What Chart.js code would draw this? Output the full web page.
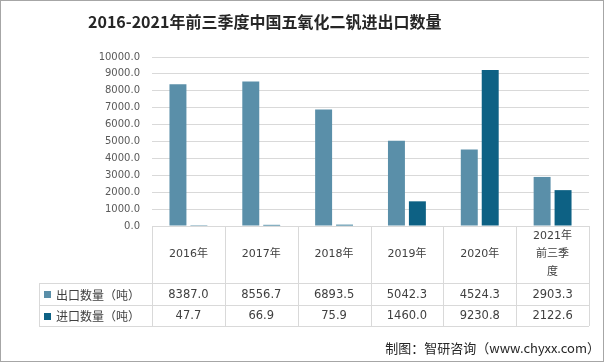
<!DOCTYPE html>
<html>
<head>
<meta charset="utf-8">
<script src="https://cdn.jsdelivr.net/npm/chart.js@4/dist/chart.umd.min.js"></script>
<style>
  html, body { margin: 0; padding: 0; background: #fff; }
  #wrap { position: relative; width: 606px; height: 363px; }
</style>
</head>
<body>
<div id="wrap"><canvas id="c" width="606" height="363"></canvas></div>
<script>
const title = "2016-2021年前三季度中国五氧化二钒进出口数量";
const years = ["2016年", "2017年", "2018年", "2019年", "2020年", ["2021年", "前三季", "度"]];
const seriesNames = ["出口数量（吨）", "进口数量（吨）"];
const exportVals = [8387.0, 8556.7, 6893.5, 5042.3, 4524.3, 2903.3];
const importVals = [47.7, 66.9, 75.9, 1460.0, 9230.8, 2122.6];
const colors = ["#5a8fa9", "#0d6184"];
const source = "制图：智研咨询（www.chyxx.com）";

const FONT = "'DejaVu Sans', 'Noto Sans CJK SC', sans-serif";
const CJK = "'Noto Sans CJK SC', 'DejaVu Sans', sans-serif";
const line = "#d9d9d9";

// title, data table under the plot, source note and frame
const extras = {
  id: "extras",
  afterDraw(chart) {
    const { ctx, chartArea: a, scales: { x } } = chart;
    const colW = (a.right - a.left) / years.length;
    const rowTop = a.bottom, r1 = a.bottom + 57, r2 = r1 + 22, r3 = r2 + 21;
    const legL = 39;
    ctx.save();

    ctx.fillStyle = "#262626";
    ctx.font = "bold 16px " + CJK;
    ctx.textBaseline = "middle";
    ctx.textAlign = "left";
    ctx.fillText(title, 88, 22);

    // grid of the table
    ctx.strokeStyle = line;
    ctx.lineWidth = 1;
    ctx.beginPath();
    for (let i = 0; i <= years.length; i++) {
      const px = Math.round(a.left + i * colW) + 0.5;
      ctx.moveTo(px, rowTop); ctx.lineTo(px, r3);
    }
    [r1, r2, r3].forEach(y => { ctx.moveTo(legL, y + 0.5); ctx.lineTo(a.right, y + 0.5); });
    ctx.moveTo(legL + 0.5, r1); ctx.lineTo(legL + 0.5, r3);
    ctx.stroke();

    ctx.fillStyle = "#404040";
    ctx.textAlign = "center";
    ctx.font = "11px " + FONT;
    years.forEach((y, i) => {
      const cx = x.getPixelForValue(i);
      const lines = Array.isArray(y) ? y : [y];
      const mid = (rowTop + r1) / 2;
      lines.forEach((t, k) => ctx.fillText(t, cx, mid + (k - (lines.length - 1) / 2) * 18));
    });
    ctx.font = "11.5px " + FONT;
    [exportVals, importVals].forEach((vals, s) => {
      const cy = s === 0 ? (r1 + r2) / 2 + 1 : (r2 + r3) / 2 + 1;
      vals.forEach((v, i) => ctx.fillText(v.toFixed(1), x.getPixelForValue(i), cy));
    });

    // legend keys inside the table
    ctx.textAlign = "left";
    ctx.font = "12px " + CJK;
    seriesNames.forEach((n, s) => {
      const cy = s === 0 ? (r1 + r2) / 2 : (r2 + r3) / 2;
      ctx.fillStyle = colors[s];
      ctx.fillRect(44, Math.round(cy) - 3, 7, 7);
      ctx.fillStyle = "#404040";
      ctx.fillText(n, 56, cy + 1);
    });

    ctx.fillStyle = "#262626";
    ctx.textAlign = "right";
    ctx.font = "13px " + CJK;
    ctx.fillText(source, 600, 348);

    ctx.strokeStyle = "#a6a6a6";
    ctx.strokeRect(0.5, 0.5, 603, 361);
    ctx.restore();
  }
};

new Chart(document.getElementById("c"), {
  type: "bar",
  data: {
    labels: years,
    datasets: [
      { label: seriesNames[0], data: exportVals, backgroundColor: colors[0] },
      { label: seriesNames[1], data: importVals, backgroundColor: colors[1] },
    ],
  },
  options: {
    responsive: false,
    animation: false,
    devicePixelRatio: 1,
    layout: { padding: { top: 57, right: 17, bottom: 137, left: 0 } },
    datasets: { bar: { categoryPercentage: 0.575, barPercentage: 0.81 } },
    plugins: { legend: { display: false }, title: { display: false }, tooltip: { enabled: false } },
    scales: {
      x: { display: false },
      y: {
        min: 0, max: 10000,
        afterFit: s => { s.width = 152; },
        border: { display: false },
        grid: { color: line, drawTicks: false },
        ticks: {
          stepSize: 1000, padding: 12, color: "#595959",
          font: { family: FONT, size: 10 },
          callback: v => v.toFixed(1),
        },
      },
    },
  },
  plugins: [extras],
});
</script>
</body>
</html>
